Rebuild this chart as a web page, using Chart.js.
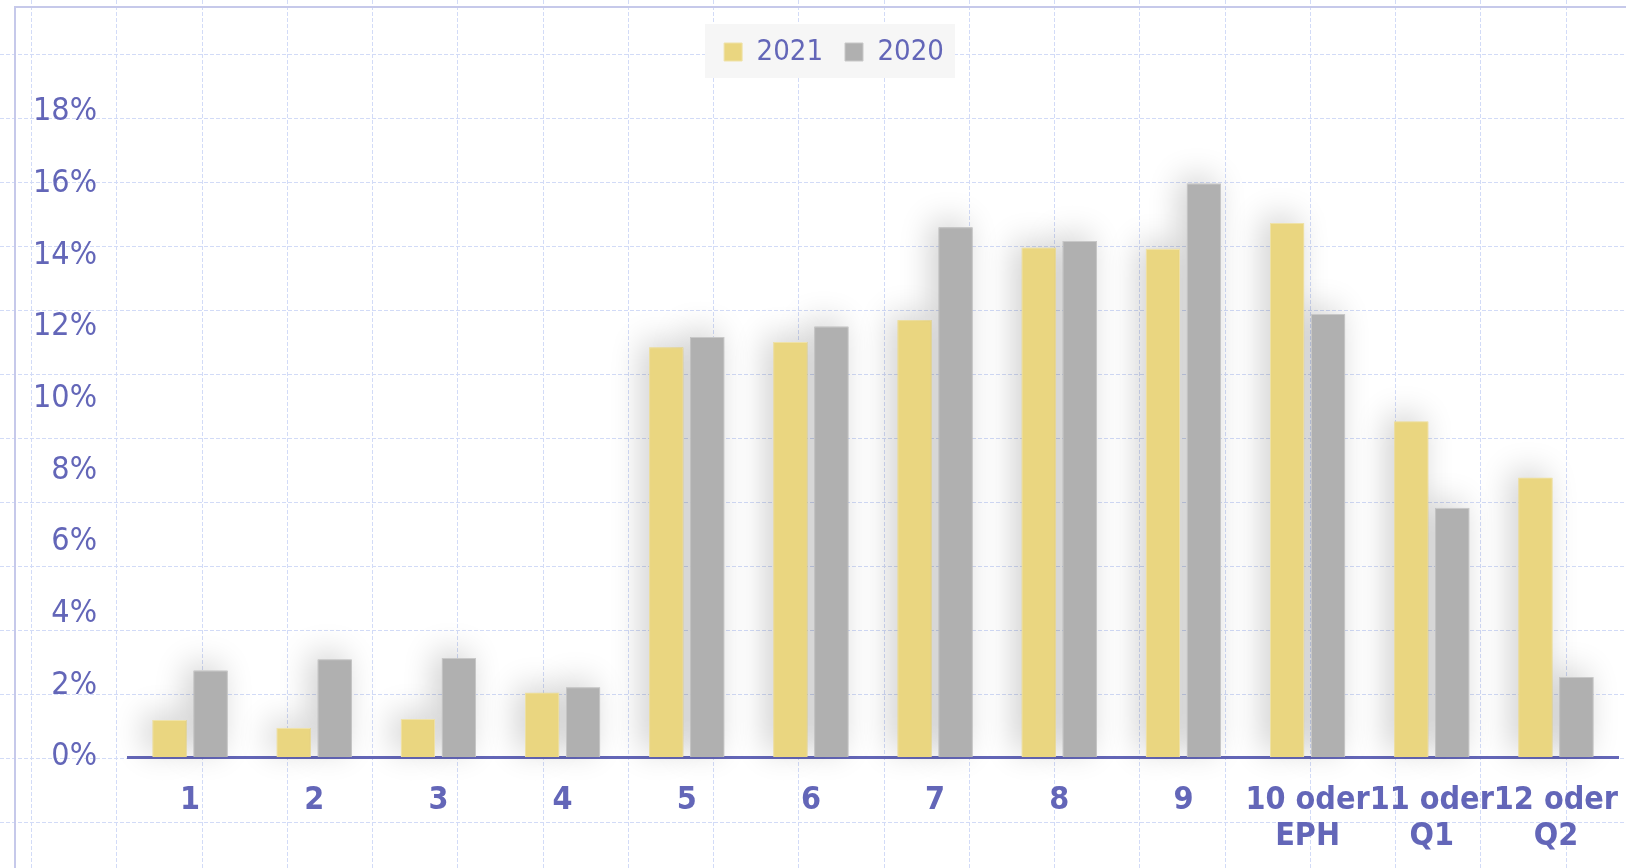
<!DOCTYPE html>
<html>
<head>
<meta charset="utf-8">
<script src="https://cdn.jsdelivr.net/npm/chart.js@4.4.1/dist/chart.umd.min.js"></script>
<style>
  html, body { margin: 0; padding: 0; background: #fff; }
  #wrap { width: 1626px; height: 868px; }
</style>
</head>
<body>
<div id="wrap"><canvas id="chart" width="1626" height="868"></canvas></div>
<script>
const categories = ['1', '2', '3', '4', '5', '6', '7', '8', '9', ['10 oder', 'EPH'], ['11 oder', 'Q1'], ['12 oder', 'Q2']];
const values2021 = [1.03, 0.81, 1.06, 1.79, 11.43, 11.58, 12.19, 14.21, 14.18, 14.9, 9.36, 7.79];
const values2020 = [2.41, 2.72, 2.76, 1.94, 11.72, 12.01, 14.78, 14.4, 16.0, 12.36, 6.95, 2.23];
const yTicks = [0, 2, 4, 6, 8, 10, 12, 14, 16, 18];

const textColor = '#6366b8';
const fontFamily = 'DejaVu Sans Condensed';

// graph paper background, legend box, bar shadows
const paperPlugin = {
    id: 'paper',
    afterLayout: (chart) => {
        // legend sits a bit right of centre and close to the top
        const lg = chart.legend;
        const dx = 25;
        const dy = 52 - (lg.top + 22 + 14.5);
        lg.left += dx; lg.right += dx;
        lg.top += dy; lg.bottom += dy;
    },
    beforeDraw: (chart) => {
        const ctx = chart.ctx;
        ctx.save();
        ctx.fillStyle = '#fff';
        ctx.fillRect(0, 0, chart.width, chart.height);
        ctx.strokeStyle = '#d2dbf7';
        ctx.lineWidth = 1;
        ctx.setLineDash([4, 2]);
        for (let x = 31; x < chart.width; x += 85.25) {
            ctx.beginPath();
            ctx.moveTo(Math.round(x) + 0.5, 0);
            ctx.lineTo(Math.round(x) + 0.5, chart.height);
            ctx.stroke();
        }
        for (let y = 54; y < chart.height; y += 64) {
            ctx.beginPath();
            ctx.moveTo(0, y + 0.5);
            ctx.lineTo(chart.width, y + 0.5);
            ctx.stroke();
        }
        ctx.setLineDash([]);
        ctx.strokeStyle = '#c6c9ea';
        ctx.lineWidth = 2;
        ctx.beginPath();
        ctx.moveTo(chart.width, 7);
        ctx.lineTo(15, 7);
        ctx.lineTo(15, chart.height);
        ctx.stroke();

        const lg = chart.legend;
        const cx = (lg.left + lg.right) / 2;
        ctx.fillStyle = '#f6f6f6';
        ctx.fillRect(cx - 129, 24, 250, 54);
        ctx.restore();
    },
    beforeDatasetsDraw: (chart) => {
        const ctx = chart.ctx;
        ctx.save();
        ctx.shadowColor = 'rgba(0, 0, 0, 0.2)';
        ctx.shadowBlur = 32;
        ctx.shadowOffsetX = -7;
        ctx.shadowOffsetY = -6;
        chart.data.datasets.forEach((ds, i) => {
            chart.getDatasetMeta(i).data.forEach(bar => {
                ctx.fillStyle = ds.backgroundColor;
                ctx.fillRect(bar.x - bar.width / 2, bar.y, bar.width, bar.base - bar.y);
            });
        });
        ctx.restore();
    }
};

const ctx = document.getElementById('chart').getContext('2d');

new Chart(ctx, {
    type: 'bar',
    data: {
        labels: categories,
        datasets: [
            {
                label: '2021',
                data: values2021,
                backgroundColor: '#ead680',
                borderColor: '#efe2a8',
                borderWidth: 1,
                categoryPercentage: 0.66,
                barPercentage: 0.83
            },
            {
                label: '2020',
                data: values2020,
                backgroundColor: '#b0b0b0',
                borderColor: '#c8c8c8',
                borderWidth: 1,
                categoryPercentage: 0.66,
                barPercentage: 0.83
            }
        ]
    },
    options: {
        responsive: false,
        animation: false,
        layout: { padding: { left: 0, right: 8, top: 51, bottom: 0 } },
        plugins: {
            tooltip: { enabled: false },
            legend: {
                position: 'top',
                labels: {
                    color: textColor,
                    boxWidth: 18,
                    boxHeight: 18,
                    padding: 22,
                    font: { family: fontFamily, size: 29 }
                }
            }
        },
        scales: {
            x: {
                afterFit: (scale) => {
                    scale.height = 111;
                    scale.paddingLeft = 0;
                    scale.paddingRight = 0;
                },
                grid: { display: false, drawTicks: false },
                border: { display: true, color: '#6467b8', width: 3 },
                ticks: {
                    color: textColor,
                    autoSkip: false,
                    maxRotation: 0,
                    minRotation: 0,
                    padding: 26,
                    font: { family: fontFamily, size: 32, weight: 'bold', lineHeight: 1.11 }
                }
            },
            y: {
                min: 0,
                max: 18,
                afterFit: (scale) => { scale.width = 128; },
                afterBuildTicks: (scale) => { scale.ticks = yTicks.map(v => ({ value: v })); },
                grid: { display: false, drawTicks: false },
                border: { display: false },
                ticks: {
                    color: textColor,
                    padding: 31,
                    font: { family: fontFamily, size: 32 },
                    callback: (v) => v + '%'
                }
            }
        }
    },
    plugins: [paperPlugin]
});
</script>
</body>
</html>
